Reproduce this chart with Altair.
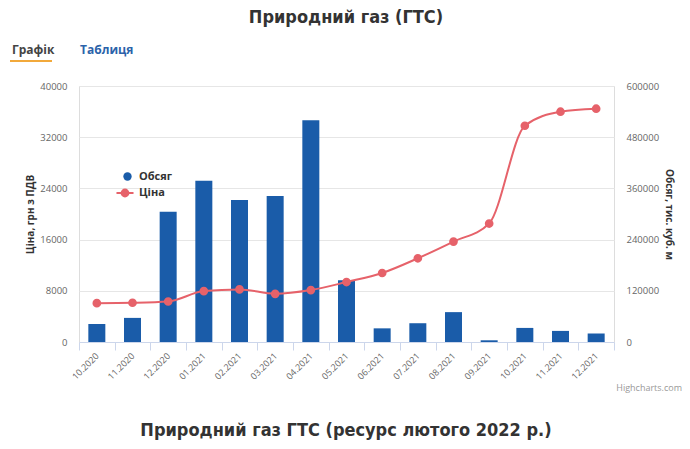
import altair as alt
import pandas as pd

months = ["10.2020", "11.2020", "12.2020", "01.2021", "02.2021", "03.2021", "04.2021",
          "05.2021", "06.2021", "07.2021", "08.2021", "09.2021", "10.2021", "11.2021", "12.2021"]
volume = [42000, 56500, 305000, 378000, 333000, 342000, 520000,
          144500, 32000, 44000, 70000, 4000, 33000, 26000, 20000]
price = [6070, 6130, 6330, 7950, 8220, 7530, 8110,
         9370, 10780, 13080, 15690, 18510, 33790, 35980, 36450]

title_top = "Природний газ (ГТС)"
title_bottom = "Природний газ ГТС (ресурс лютого 2022 р.)"
tab1 = "Графік"
tab2 = "Таблиця"
credit = "Highcharts.com"
left_title = "Ціна, грн з ПДВ"
right_title = "Обсяг, тис. куб. м"
vol_name = "Обсяг"
price_name = "Ціна"

BLUE = "#1a5ca9"
RED = "#e6626a"
TITLE_FONT = "DejaVu Sans Condensed, Roboto, sans-serif"
FONT = "Open Sans"

df = pd.DataFrame({"m": months, "v": volume, "p": price,
                   "sv": [vol_name] * len(months), "sp": [price_name] * len(months)})

x = alt.X("m:N", sort=months, title=None,
          scale=alt.Scale(paddingInner=0, paddingOuter=0),
          axis=alt.Axis(labelAngle=-45, labelAlign="right", labelBaseline="middle",
                        labelFontSize=9, labelColor="#666", labelFont=FONT,
                        labelPadding=4, domainColor="#ccd6eb", tickColor="#ccd6eb",
                        tickBand="extent", tickSize=8, grid=False, labelOffset=0))

bars = alt.Chart(df).mark_bar(size=17).encode(
    x=x,
    y=alt.Y("v:Q", title=right_title,
            scale=alt.Scale(domain=[0, 600000], nice=False),
            axis=alt.Axis(orient="right", values=[0, 120000, 240000, 360000, 480000, 600000],
                          format="d", grid=False, domain=False, ticks=False,
                          labelPadding=12, labelFontSize=9.5, labelColor="#666", labelFont=FONT,
                          titleFontSize=10, titleFont=FONT, titleColor="#333",
                          titleAngle=90, titleX=54, titleY=128, titleBaseline="middle",
                          titleAlign="center")),
    color=alt.Color("sv:N", scale=alt.Scale(domain=[vol_name], range=[BLUE]),
                    legend=alt.Legend(title=None, orient="none", legendX=43, legendY=85,
                                      symbolType="circle", symbolSize=70, padding=0,
                                      labelFontSize=11, labelFontWeight="bold",
                                      labelColor="#333", labelFont=FONT, labelOffset=6)),
)

line = alt.Chart(df).mark_line(
    interpolate="monotone", strokeWidth=2,
    point=alt.OverlayMarkDef(filled=True, size=45, opacity=1, color=RED),
).encode(
    x=alt.X("m:N", sort=months),
    y=alt.Y("p:Q", title=left_title,
            scale=alt.Scale(domain=[0, 40000], nice=False),
            axis=alt.Axis(orient="left", values=[0, 8000, 16000, 24000, 32000, 40000],
                          format="d", grid=True, gridColor="#e6e6e6", domain=False, ticks=False,
                          labelPadding=12, labelFontSize=9.5, labelColor="#666", labelFont=FONT,
                          titleFontSize=10, titleFont=FONT, titleColor="#333",
                          titleAngle=-90, titleX=-49, titleY=128, titleBaseline="middle",
                          titleAlign="center")),
    stroke=alt.Stroke("sp:N", scale=alt.Scale(domain=[price_name], range=[RED]),
                      legend=alt.Legend(title=None, orient="none", legendX=36, legendY=97,
                                        symbolType="M-1,0L1,0M-0.4,0a0.4,0.4 0 1,0 0.8,0a0.4,0.4 0 1,0 -0.8,0",
                                        symbolSize=290, symbolStrokeWidth=2,
                                        symbolFillColor=RED, padding=0,
                                        labelFontSize=11, labelFontWeight="bold",
                                        labelColor="#333", labelFont=FONT, labelOffset=4)),
)

def txt(t, xv, yv, size, color, weight="bold", align="center", font=TITLE_FONT, baseline="middle"):
    return alt.Chart(pd.DataFrame({"t": [t]})).mark_text(
        fontSize=size, fontWeight=weight, color=color, align=align, font=font, baseline=baseline
    ).encode(text="t:N", x=alt.value(xv), y=alt.value(yv))

t1 = txt(title_top, 267, -68, 18, "#333")
t2 = txt(title_bottom, 267, 345, 18, "#333")
tb1 = txt(tab1, -67, -36, 12, "#444", align="left", font=FONT)
tb2 = txt(tab2, 1, -36, 12, "#2b63aa", align="left", font=FONT)
cr = txt(credit, 603, 302, 9, "#999", weight="normal", align="right", font=FONT)
underline = alt.Chart(pd.DataFrame({"a": [0]})).mark_rule(color="#f2a93b", strokeWidth=2).encode(
    x=alt.value(-69), x2=alt.value(-27), y=alt.value(-25))

chart = alt.layer(bars, line, t1, t2, tb1, tb2, cr, underline).resolve_scale(
    y="independent", color="independent", stroke="independent"
).properties(
    width=535, height=256,
    autosize=alt.AutoSizeParams(type="none"),
    padding={"left": 71, "top": 78, "right": 68, "bottom": 99},
).configure_view(stroke=None).configure(background="white")

chart.save("out.html", embed_options={"renderer": "svg", "actions": False})
